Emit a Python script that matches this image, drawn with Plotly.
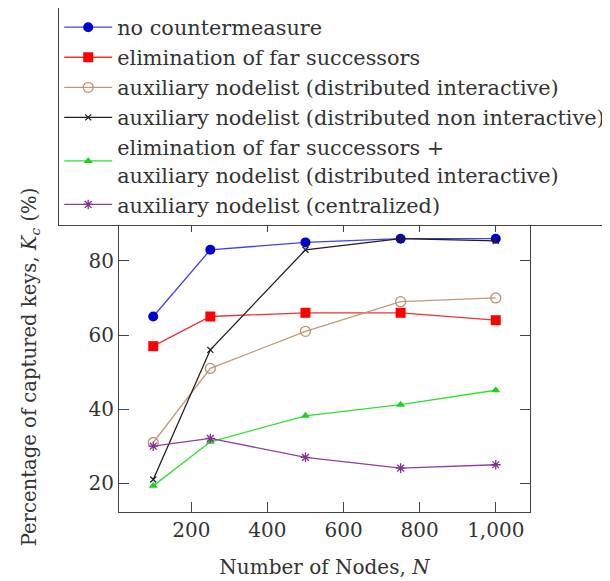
import plotly.graph_objects as go

nodes = [100, 250, 500, 750, 1000]
no_counter = [65, 83, 85, 86, 86]
elim_far = [57, 65, 66, 66, 64]
aux_dist_inter = [31, 51, 61, 69, 70]
aux_dist_noninter = [21, 56, 83, 86, 85.4]
elim_plus_aux = [19.3, 31.2, 38.2, 41.2, 45.1]
aux_central = [30, 32.1, 27, 24.1, 25]

series_names = [
    "no countermeasure",
    "elimination of far successors",
    "auxiliary nodelist (distributed interactive)",
    "auxiliary nodelist (distributed non interactive)",
    "elimination of far successors +<br>auxiliary nodelist (distributed interactive)",
    "auxiliary nodelist (centralized)",
]

x_tickvals = [200, 400, 600, 800, 1000]
x_ticktext = ["200", "400", "600", "800", "1,000"]
y_tickvals = [20, 40, 60, 80]

FONT = "DejaVu Serif, serif"
TXT = "#333333"
FS = 20

styles = [
    dict(line=dict(color="#4040f0", width=1.3), marker=dict(symbol="circle", size=10, color="#0000d0")),
    dict(line=dict(color="#f03030", width=1.3), marker=dict(symbol="square", size=10, color="#ff0000")),
    dict(line=dict(color="#c09a78", width=1.3), marker=dict(symbol="circle-open", size=10, color="#c09070", line=dict(width=1.3))),
    dict(line=dict(color="#202020", width=1.3), marker=dict(symbol="x-thin-open", size=6, color="#202020", line=dict(width=1.3))),
    dict(line=dict(color="#30e030", width=1.3), marker=dict(symbol="triangle-up", size=8, color="#20d020")),
    dict(line=dict(color="#9040a0", width=1.3), marker=dict(symbol="asterisk-open", size=8, color="#803090", line=dict(width=1.3))),
]

data = [no_counter, elim_far, aux_dist_inter, aux_dist_noninter, elim_plus_aux, aux_central]

fig = go.Figure()
for name, ys, st in zip(series_names, data, styles):
    fig.add_trace(go.Scatter(x=nodes, y=ys, name=name, mode="lines+markers", **st))

OFF = 8  # page body margin
W, H = 610 - OFF, 581 - OFF
L, R, T, B = 119 - OFF, 80, 222 - OFF, 69
pw = W - L - R
ph = H - T - B

fig.update_layout(
    width=W, height=H,
    margin=dict(l=L, r=R, t=T, b=B, autoexpand=False),
    paper_bgcolor="white", plot_bgcolor="white",
    font=dict(family=FONT, size=FS, color=TXT),
    showlegend=True,
    legend=dict(
        x=(58 - 119) / pw, y=(581 - 69 - 6) / ph, xanchor="left", yanchor="top",
        bgcolor="white", bordercolor="#444444", borderwidth=1.2,
        font=dict(family=FONT, size=20.8, color=TXT),
        itemwidth=48, tracegroupgap=0,
    ),
)
fig.update_xaxes(
    range=[10, 1090], tickvals=x_tickvals, ticktext=x_ticktext,
    showgrid=False, zeroline=False, showline=True, linecolor="#444444", linewidth=1.2,
    ticks="inside", ticklen=10, tickcolor="#444444", mirror="ticks",
    title=dict(text="Number of Nodes, <i>N</i>", font=dict(family=FONT, size=FS, color=TXT), standoff=18),
    tickfont=dict(family=FONT, size=FS, color=TXT),
)
fig.update_yaxes(
    range=[12.25, 90.5], tickvals=y_tickvals,
    showgrid=False, zeroline=False, showline=True, linecolor="#444444", linewidth=1.2,
    ticks="inside", ticklen=10, tickcolor="#444444", mirror="ticks",
    title=dict(text="Percentage of captured keys, <i>K<sub>c</sub></i> (%)", font=dict(family=FONT, size=19.6, color=TXT), standoff=46),
    tickfont=dict(family=FONT, size=FS, color=TXT),
)

fig.write_html("out.html")
